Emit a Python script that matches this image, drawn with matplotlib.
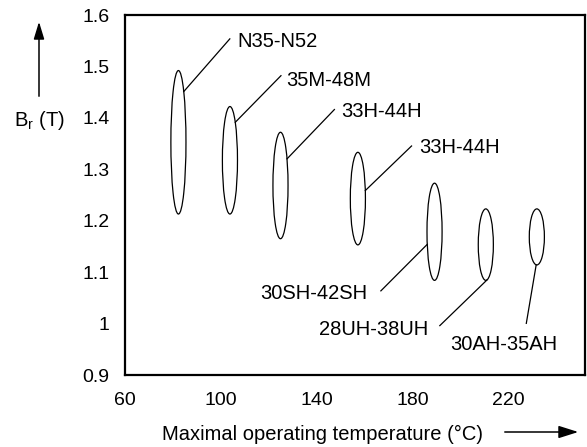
import matplotlib
matplotlib.use("Agg")
import matplotlib.pyplot as plt
from matplotlib.patches import Ellipse, FancyArrowPatch
import numpy as np

plt.rcParams["font.family"] = ["Liberation Sans", "DejaVu Sans"]
plt.rcParams["mathtext.fontset"] = "custom"
plt.rcParams["mathtext.rm"] = "Liberation Sans"
plt.rcParams["mathtext.it"] = "Liberation Sans"

# Magnet grades: max operating temperature (°C) and remanence range Br (T)
grades = ["N35-N52", "35M-48M", "33H-44H", "33H-44H",
          "30SH-42SH", "28UH-38UH", "30AH-35AH"]
temp_center = [82.3, 103.8, 124.9, 157.2, 189.2, 210.6, 231.9]
br_high = [1.492, 1.422, 1.372, 1.333, 1.273, 1.223, 1.223]
br_low = [1.213, 1.213, 1.165, 1.153, 1.084, 1.084, 1.114]
temp_spread = 6.3

x_ticks = [60, 100, 140, 180, 220]
y_ticks = [0.9, 1.0, 1.1, 1.2, 1.3, 1.4, 1.5, 1.6]
y_tick_labels = ["0.9", "1", "1.1", "1.2", "1.3", "1.4", "1.5", "1.6"]

# Leader-line layout: anchor angle on ellipse (deg), line end, text anchor
anchor_angle = [45, 45, 30, 10, 195, 280, 265]
line_end = [(103.75, 1.5536), (125.1, 1.482), (147.4, 1.4162), (179.6, 1.3453),
            (166.8, 1.0636), (191.4, 0.996), (227.5, 1.0004)]
text_pos = [(106.7, 1.5516), (127.1, 1.4756), (150.1, 1.4162), (182.75, 1.3453),
            (161.25, 1.0617), (186.5, 0.992), (217.9, 0.9636)]
text_ha = ["left", "left", "left", "left", "right", "right", "center"]

fig = plt.figure(figsize=(5.87, 4.47), dpi=100)
ax = fig.add_axes([125 / 587, 1 - 375 / 447, 460 / 587, 360 / 447])
ax.set_xlim(60, 252)
ax.set_ylim(0.9, 1.6)

for i, name in enumerate(grades):
    cx = temp_center[i]
    cy = (br_high[i] + br_low[i]) / 2
    h = br_high[i] - br_low[i]
    ax.add_patch(Ellipse((cx, cy), temp_spread, h, fill=False,
                         edgecolor="black", linewidth=0.9))
    t = np.deg2rad(anchor_angle[i])
    sx = cx + temp_spread / 2 * np.cos(t)
    sy = cy + h / 2 * np.sin(t)
    ex, ey = line_end[i]
    ax.plot([sx, ex], [sy, ey], color="black", linewidth=0.9)
    ax.text(text_pos[i][0], text_pos[i][1], name, ha=text_ha[i],
            va="center_baseline", fontsize=14.5)

ax.set_xticks(x_ticks)
ax.set_yticks(y_ticks)
ax.set_yticklabels(y_tick_labels)
ax.tick_params(length=0, labelsize=14)
ax.tick_params(axis="x", pad=12)
ax.tick_params(axis="y", pad=11)
for s in ax.spines.values():
    s.set_linewidth(1.6)

# Axis labels with arrows
fig.text(322 / 587, 1 - 432 / 447, "Maximal operating temperature (°C)",
         ha="center", va="center_baseline", fontsize=14.5)
fig.patches.append(FancyArrowPatch(
    (502 / 587, 1 - 432 / 447), (581 / 587, 1 - 432 / 447),
    transform=fig.transFigure, arrowstyle="-|>,head_length=12,head_width=3.8",
    color="black", linewidth=1.1, mutation_scale=1))
fig.text(39 / 587, 1 - 118 / 447, r"B$_\mathregular{r}$ (T)",
         ha="center", va="center_baseline", fontsize=14.5)
fig.patches.append(FancyArrowPatch(
    (39 / 587, 1 - 99 / 447), (39 / 587, 1 - 19 / 447),
    transform=fig.transFigure, arrowstyle="-|>,head_length=10.5,head_width=3.2",
    color="black", linewidth=1.1, mutation_scale=1))

fig.savefig("out.png", dpi=100)
